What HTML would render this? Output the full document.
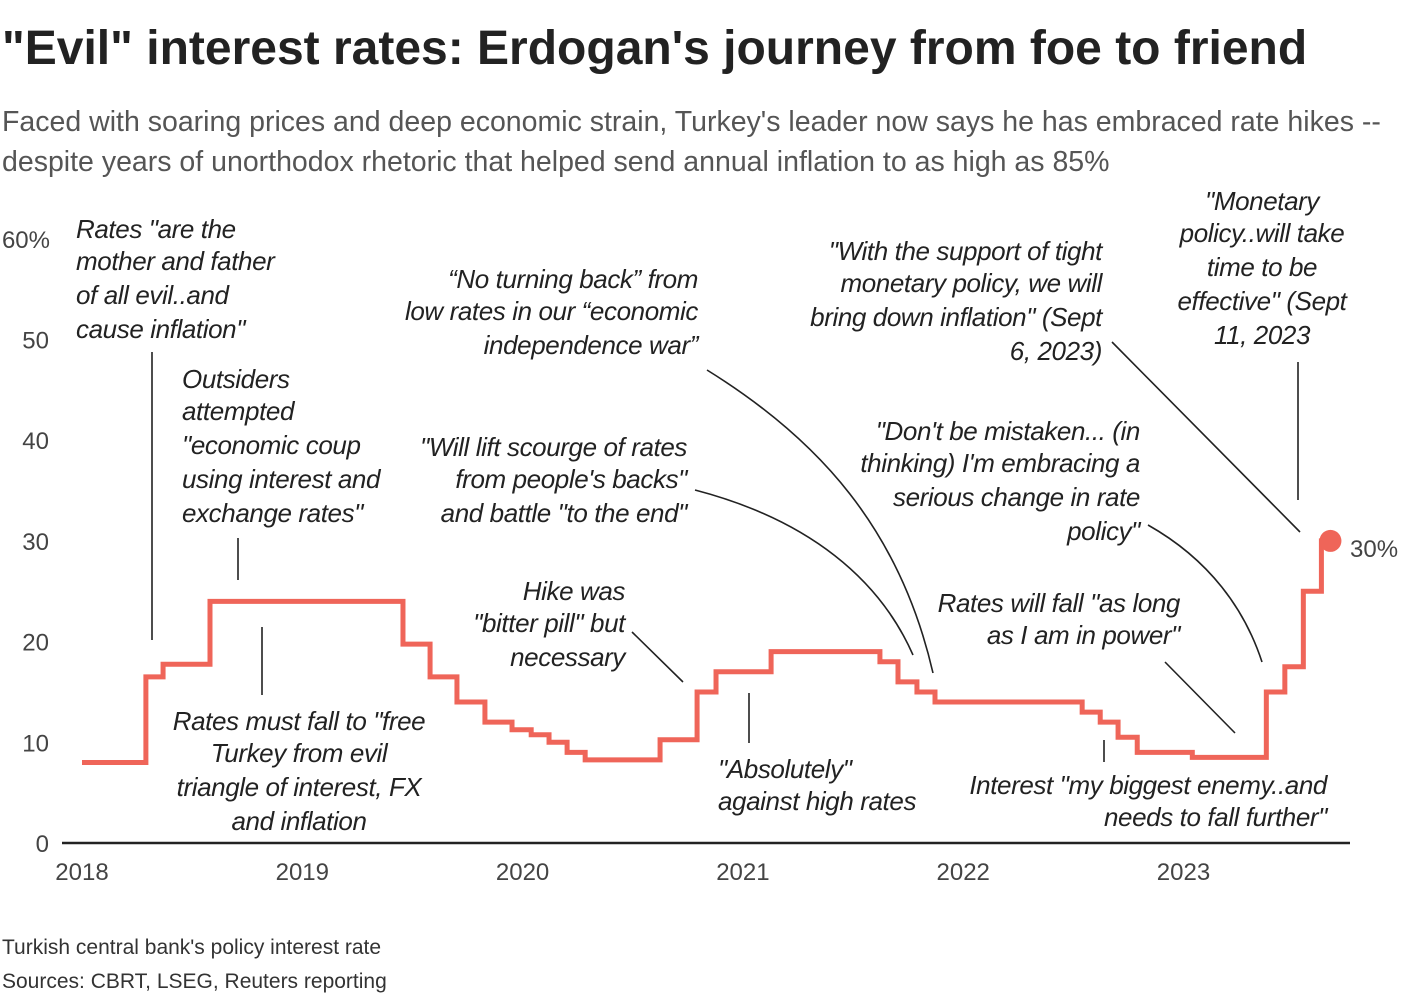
<!DOCTYPE html>
<html><head><meta charset="utf-8">
<style>
body{margin:0;background:#fff;width:1420px;height:1000px;overflow:hidden;font-family:"Liberation Sans Narrow","Liberation Sans",sans-serif;}
svg text{font-family:"Liberation Sans Narrow","Liberation Sans",sans-serif;}
.ann{font-style:italic;font-size:26px;fill:#222;letter-spacing:-0.4px;}
.ax{font-size:24px;fill:#444;}
</style></head>
<body>
<svg width="1420" height="1000">
<text x="2" y="64" font-size="48" font-weight="bold" fill="#222" font-family="Liberation Sans">"Evil" interest rates: Erdogan's journey from foe to friend</text>
<g font-size="28.5" fill="#555">
<text x="2" y="131">Faced with soaring prices and deep economic strain, Turkey's leader now says he has embraced rate hikes --</text>
<text x="2" y="171">despite years of unorthodox rhetoric that helped send annual inflation to as high as 85%</text>
</g>
<g id="axes"></g>
<g id="series"></g>
<g class="ann">
<text x="76" y="238">Rates "are the</text><text x="76" y="270">mother and father</text><text x="76" y="304">of all evil..and</text><text x="76" y="338">cause inflation"</text>
<text x="182" y="388">Outsiders</text><text x="182" y="420">attempted</text><text x="182" y="454">"economic coup</text><text x="182" y="488">using interest and</text><text x="182" y="522">exchange rates"</text>
<g text-anchor="middle"><text x="299" y="730">Rates must fall to "free</text><text x="299" y="762">Turkey from evil</text><text x="299" y="796">triangle of interest, FX</text><text x="299" y="830">and inflation</text></g>
<g text-anchor="end"><text x="698" y="288">“No turning back” from</text><text x="698" y="320">low rates in our “economic</text><text x="698" y="354">independence war”</text>
<text x="687" y="456">"Will lift scourge of rates</text><text x="687" y="488">from people's backs"</text><text x="687" y="522">and battle "to the end"</text>
<text x="625" y="600">Hike was</text><text x="625" y="632">"bitter pill" but</text><text x="625" y="666">necessary</text>
<text x="1102" y="260">"With the support of tight</text><text x="1102" y="292">monetary policy, we will</text><text x="1102" y="326">bring down inflation" (Sept</text><text x="1102" y="360">6, 2023)</text>
<text x="1140" y="440">"Don't be mistaken... (in</text><text x="1140" y="472">thinking) I'm embracing a</text><text x="1140" y="506">serious change in rate</text><text x="1140" y="540">policy"</text>
<text x="1180" y="612">Rates will fall "as long</text><text x="1180" y="644">as I am in power"</text>
<text x="1327" y="794">Interest "my biggest enemy..and</text><text x="1327" y="826">needs to fall further"</text></g>
<text x="718" y="778">"Absolutely"</text><text x="718" y="810">against high rates</text>
<g text-anchor="middle"><text x="1262" y="210">"Monetary</text><text x="1262" y="242">policy..will take</text><text x="1262" y="276">time to be</text><text x="1262" y="310">effective" (Sept</text><text x="1262" y="344">11, 2023</text></g>
</g>
<g stroke="#222" stroke-width="1.6" fill="none">
<path d="M152 352V640M238 538V580M262 627V695M632 632L683 682M749 693V743M1104 740V762M1112 342L1300 532M1298 362V500M1165 662L1235 733"/>
<path d="M695 490C810 520 880 580 913 655"/>
<path d="M707 370C820 440 900 530 933 673"/>
<path d="M1148 525C1210 560 1245 610 1262 662"/>
</g>
<text x="1350" y="557" font-size="24" fill="#444">30%</text>
<g font-size="21" fill="#333">
<text x="2" y="954">Turkish central bank's policy interest rate</text>
<text x="2" y="988">Sources: CBRT, LSEG, Reuters reporting</text>
</g>
</svg>
<script>
const yTicks=[0,10,20,30,40,50,60];
const years=[2018,2019,2020,2021,2022,2023];
const dates=[2018.0,2018.29,2018.368,2018.581,2019.457,2019.58,2019.702,2019.829,2019.952,2020.039,2020.12,2020.202,2020.284,2020.624,2020.792,2020.878,2021.128,2021.622,2021.704,2021.79,2021.872,2022.54,2022.622,2022.703,2022.79,2023.04,2023.376,2023.46,2023.544,2023.626,2023.667];
const rates=[8,16.5,17.75,24,19.75,16.5,14,12,11.25,10.75,10,9,8.25,10.25,15,17,19,18,16,15,14,13,12,10.5,9,8.5,15,17.5,25,30,30];
const NS='http://www.w3.org/2000/svg';
const X=t=>82+(t-2018)*220.3;
const Y=v=>843-v*10.07;
const ax=document.getElementById('axes'),se=document.getElementById('series');
function mk(tag,attrs,parent){const e=document.createElementNS(NS,tag);for(const k in attrs)e.setAttribute(k,attrs[k]);parent.appendChild(e);return e;}
yTicks.forEach(v=>{const t=mk('text',{x:v===60?50:49,y:Y(v)+9,'text-anchor':'end',class:'ax'},ax);


t.textContent=v===60?'60%':v;});
years.forEach(y=>{const t=mk('text',{x:X(y),y:880,'text-anchor':'middle',class:'ax'},ax);


t.textContent=y;});
const base=mk('line',{x1:62,x2:1350,y1:Y(0),y2:Y(0),stroke:'#222','stroke-width':2.5},ax);


let d='M'+X(dates[0])+' '+Y(rates[0]);
for(let i=1;i<dates.length;i++){d+=' H'+X(dates[i])+' V'+Y(rates[i]);}
const p=mk('path',{d:d,fill:'none',stroke:'#ef6559','stroke-width':5,'stroke-linejoin':'miter'},se);


const n=dates.length-1;
const c=mk('circle',{cx:X(dates[n]),cy:Y(rates[n]),r:11,fill:'#ef6559'},se);


</script>
</body></html>
